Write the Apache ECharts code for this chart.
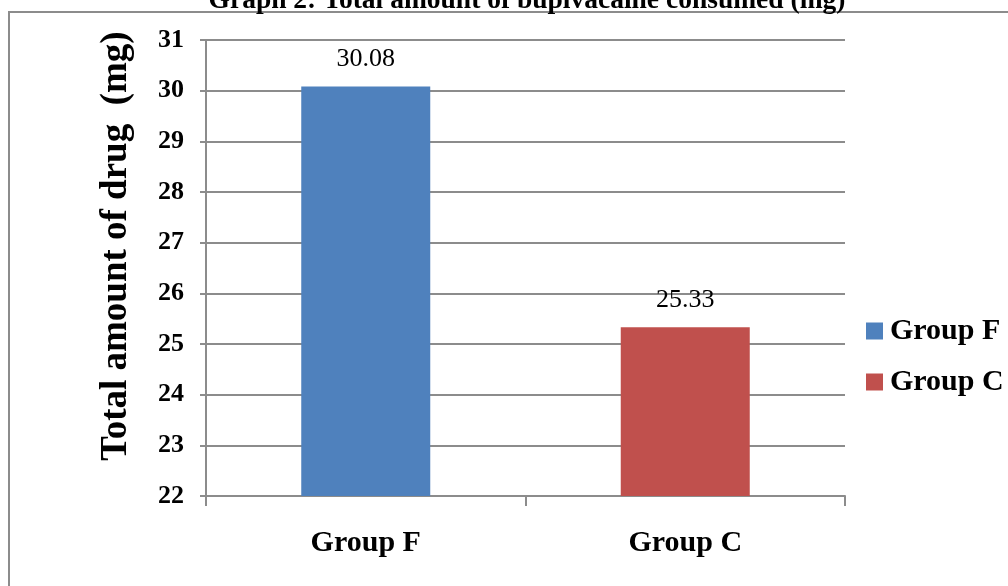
<!DOCTYPE html>
<html>
<head>
<meta charset="utf-8">
<script src="https://cdn.jsdelivr.net/npm/echarts@6/dist/echarts.min.js"></script>
<style>
  html, body { margin: 0; padding: 0; background: #fff; overflow: hidden; }
  #frame { position: absolute; left: 8px; top: 11px; width: 1100px; height: 700px; border: 2px solid #8c8c8c; box-sizing: border-box; }
  #chart { position: absolute; left: 0; top: 0; width: 1008px; height: 586px; }
</style>
</head>
<body>
<div id="frame"></div>
<div id="chart"></div>
<script>
// Bupivacaine consumption per study group
const categories = ['Group F', 'Group C'];
const totalDrug = [30.08, 25.33];
const barColors = ['#4F81BD', '#C0504D'];
const yTicks = [22, 23, 24, 25, 26, 27, 28, 29, 30, 31];

const serif = '"Liberation Serif", "Times New Roman", serif';
const chart = echarts.init(document.getElementById('chart'), null, { renderer: 'canvas' });

const series = categories.map((name, i) => ({
  name: name,
  type: 'bar',
  stack: 'g',
  barWidth: 129,
  itemStyle: { color: barColors[i] },
  data: categories.map((c, j) => (j === i ? totalDrug[i] : '-')),
  label: {
    show: true,
    position: 'top',
    distance: 14,
    fontFamily: serif,
    fontSize: 26,
    color: '#000',
    formatter: p => p.value.toFixed(2)
  }
}));

chart.setOption({
  animation: false,
  title: {
    text: 'Graph 2: Total amount of bupivacaine consumed (mg)',
    left: 522,
    textAlign: 'center',
    top: -18,
    textStyle: { fontFamily: serif, fontSize: 27.5, fontWeight: 'bold', color: '#000' }
  },
  legend: {
    orient: 'vertical',
    left: 866,
    top: 316,
    padding: 0,
    itemWidth: 17,
    itemHeight: 17,
    itemGap: 21,
    icon: 'rect',
    textStyle: { fontFamily: serif, fontSize: 30, fontWeight: 'bold', color: '#000', padding: [0, 0, 0, 2] },
    data: categories
  },
  grid: { left: 206, right: 163, top: 40, bottom: 90, containLabel: false },
  xAxis: {
    type: 'category',
    data: categories,
    axisLine: { lineStyle: { color: '#8c8c8c', width: 2 } },
    axisTick: { show: true, length: 10, lineStyle: { color: '#8c8c8c', width: 2 } },
    axisLabel: { fontFamily: serif, fontSize: 30, fontWeight: 'bold', color: '#000', margin: 32 }
  },
  yAxis: {
    type: 'value',
    min: yTicks[0],
    max: yTicks[yTicks.length - 1],
    interval: 1,
    name: 'Total amount of drug  (mg)',
    nameLocation: 'middle',
    nameGap: 71,
    nameTextStyle: { fontFamily: serif, fontSize: 37, fontWeight: 'bold', color: '#000', padding: [0, 0, 0, 44] },
    axisLine: { show: true, lineStyle: { color: '#8c8c8c', width: 2 } },
    axisTick: { show: true, length: 6, lineStyle: { color: '#8c8c8c', width: 2 } },
    axisLabel: { fontFamily: serif, fontSize: 26, fontWeight: 'bold', color: '#000', margin: 22 },
    splitLine: { lineStyle: { color: '#8c8c8c', width: 2 } }
  },
  series: series
});
</script>
</body>
</html>
